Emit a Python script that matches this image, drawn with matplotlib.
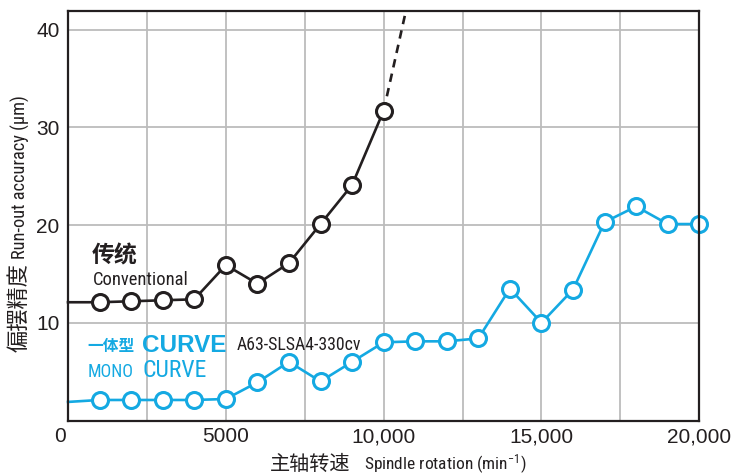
import numpy as np
import matplotlib
matplotlib.use("Agg")
import matplotlib.pyplot as plt
import matplotlib.transforms as mtransforms

# ── Data ───────────────────────────────────────────────────────────────────
# Conventional holder: run-out [um] vs spindle speed [min^-1]
conv_rpm = [0, 1000, 2000, 3000, 4000, 5000, 6000, 7000, 8000, 9000, 10000]
conv_um  = [12.1, 12.1, 12.2, 12.3, 12.4, 15.9, 14.0, 16.1, 20.1, 24.1, 31.7]
# extrapolated part above 10,000 (dashed)
conv_ext_rpm = [10000, 10780]
conv_ext_um  = [31.7, 43.0]

# MONO CURVE A63-SLSA4-330cv
mono_rpm = [0, 1000, 2000, 3000, 4000, 5000, 6000, 7000, 8000, 9000, 10000,
            11000, 12000, 13000, 14000, 15000, 16000, 17000, 18000, 19000, 20000]
mono_um  = [1.9, 2.1, 2.1, 2.1, 2.1, 2.2, 3.9, 6.0, 4.0, 6.0, 8.0,
            8.1, 8.1, 8.4, 13.5, 10.0, 13.4, 20.3, 21.9, 20.1, 20.1]

x_ticks  = [0, 5000, 10000, 15000, 20000]
x_labels = ["0", "5000", "10,000", "15,000", "20,000"]
y_ticks  = [10, 20, 30, 40]

# ── Style ──────────────────────────────────────────────────────────────────
BLACK = "#231f20"
BLUE  = "#14a9e2"
GRID  = "#bcbcbc"

NARROW = "Roboto Condensed"
CJK = "Noto Sans CJK JP"

plt.rcParams["font.family"] = ["Liberation Sans", "DejaVu Sans"]
plt.rcParams["mathtext.fontset"] = "custom"
plt.rcParams["mathtext.rm"] = NARROW
plt.rcParams["mathtext.it"] = NARROW
plt.rcParams["mathtext.default"] = "rm"

fig = plt.figure(figsize=(7.31, 4.75), dpi=100)
ax = fig.add_axes([68 / 731, 1 - 420.5 / 475, (699.3 - 68) / 731, (420.5 - 11) / 475])

# grid: vertical every 2500, horizontal every 10
for gx in np.arange(2500, 20000, 2500):
    ax.axvline(gx, color=GRID, linewidth=1.3, zorder=0)
for gy in y_ticks:
    ax.axhline(gy, color=GRID, linewidth=1.3, zorder=0)

mk = dict(marker="o", markersize=11.5, markerfacecolor="white",
          markeredgewidth=2.2, linewidth=1.9, clip_on=False)

ax.plot(conv_ext_rpm, conv_ext_um, color=BLACK, linewidth=1.9,
        linestyle=(0, (3.2, 2.4)), zorder=3)
ax.plot(conv_rpm, conv_um, color=BLACK, markeredgecolor=BLACK,
        markevery=list(range(1, len(conv_rpm))), zorder=4, **mk)
ax.plot(mono_rpm, mono_um, color=BLUE, markeredgecolor=BLUE,
        markevery=list(range(1, len(mono_rpm))), zorder=4, **mk)

ax.set_xlim(0, 20000)
ax.set_ylim(0, 41.9)
ax.set_xticks(x_ticks)
ax.set_xticklabels(x_labels)
ax.set_yticks(y_ticks)
ax.tick_params(axis="both", length=0, labelsize=15, colors=BLACK)
ax.tick_params(axis="x", pad=5)
ax.tick_params(axis="y", pad=6)
for s in ax.spines.values():
    s.set_color(BLACK)
    s.set_linewidth(1.6)
    s.set_zorder(5)

# the "0" sits a little left of the corner in the original
lab0 = ax.get_xticklabels()[0]
lab0.set_transform(lab0.get_transform()
                   + mtransforms.ScaledTranslation(-8 / 100, 0, fig.dpi_scale_trans))

# ── Series labels ──────────────────────────────────────────────────────────
ax.text(760, 16.2, "传统", family=[CJK], fontsize=16.5, fontweight="bold",
        color=BLACK, va="baseline")
ax.text(790, 13.9, "Conventional", family=[NARROW], fontsize=13.3,
        color=BLACK, va="baseline")
ax.text(630, 7.1, "一体型", family=[CJK], fontsize=11.3, fontweight="bold",
        color=BLUE, va="baseline")
ax.text(2340, 7.0, "CURVE", family=["Liberation Sans"], fontsize=17.5,
        fontweight="bold", color=BLUE, va="baseline")
ax.text(5350, 7.25, "A63-SLSA4-330cv", family=[NARROW], fontsize=12.8,
        color=BLACK, va="baseline")
ax.text(630, 4.5, "MONO", family=[NARROW], fontsize=12.8,
        color=BLUE, va="baseline")
ax.text(2375, 4.5, "CURVE", family=[NARROW], fontsize=17,
        color=BLUE, va="baseline")

# ── Axis titles ────────────────────────────────────────────────────────────
fig.text(270 / 731, 1 - 470 / 475, "主轴转速", family=[CJK], fontsize=14.5,
         color=BLACK, va="baseline", ha="left")
fig.text(364 / 731, 1 - 470 / 475, r"Spindle rotation (min$^{-1}$)",
         family=[NARROW, "DejaVu Sans"], fontsize=12.5, color=BLACK,
         va="baseline", ha="left")

fig.text(19 / 731, 1 - 352 / 475, "偏摆精度", family=[CJK], fontsize=16,
         color=BLACK, rotation=90, ha="center", va="bottom")
fig.text(20 / 731, 1 - 259 / 475, "Run-out accuracy (μm)",
         family=[NARROW, "DejaVu Sans"], fontsize=13.2, color=BLACK,
         rotation=90, ha="center", va="bottom")

fig.savefig("out.png", dpi=100)
